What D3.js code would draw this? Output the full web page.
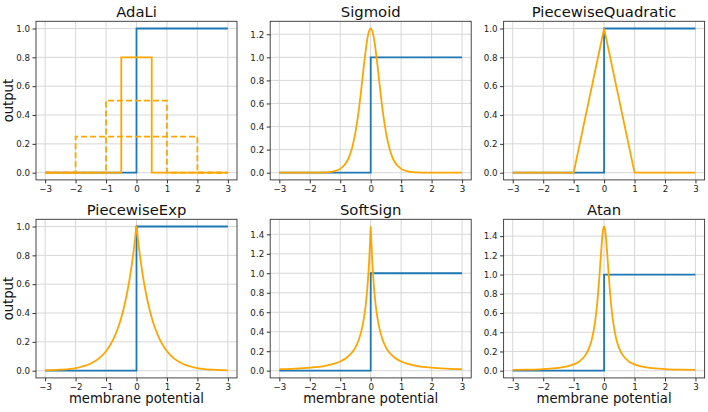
<!DOCTYPE html>
<html>
<head>
<meta charset="utf-8">
<script src="https://cdn.jsdelivr.net/npm/d3@7"></script>
<style>
  body { margin: 0; background: #fff; }
  svg text { font-family: "DejaVu Sans", sans-serif; }
</style>
</head>
<body>
<div id="chart"></div>
<script>
// surrogate gradient functions vs heaviside step

var titles = ["AdaLi", "Sigmoid", "PiecewiseQuadratic", "PiecewiseExp", "SoftSign", "Atan"];
var xTicks = [-3, -2, -1, 0, 1, 2, 3];
var yTicksUnit = [0, 0.2, 0.4, 0.6, 0.8, 1.0];
var yTicksSigmoid = [0, 0.2, 0.4, 0.6, 0.8, 1.0, 1.2];
var yTicksPeak = [0, 0.2, 0.4, 0.6, 0.8, 1.0, 1.2, 1.4];

// heaviside (blue)
var stepX = [-3, 0, 0, 3];
var stepY = [0, 0, 1, 1];

// AdaLi rectangles
var adaliNarrowX = [-3, -0.5, -0.5, 0.5, 0.5, 3];
var adaliNarrowY = [0, 0, 0.8, 0.8, 0, 0];
var adaliMidX = [-3, -1, -1, 1, 1, 3];
var adaliMidY = [0, 0, 0.5, 0.5, 0, 0];
var adaliWideX = [-3, -2, -2, 2, 2, 3];
var adaliWideY = [0, 0, 0.25, 0.25, 0, 0];

// PiecewiseQuadratic triangle
var quadX = [-3, -1, 0, 1, 3];
var quadY = [0, 0, 1, 0, 0];

// smooth curves
var smoothX = [-3, -2.5, -2, -1.5, -1.25, -1, -0.8, -0.7, -0.6, -0.5, -0.4, -0.3, -0.2, -0.1, -0.05, 0,
               0.05, 0.1, 0.2, 0.3, 0.4, 0.5, 0.6, 0.7, 0.8, 1, 1.25, 1.5, 2, 2.5, 3];
var sigmoidY = [0, 0, 0.0002, 0.0028, 0.0096, 0.033, 0.088, 0.142, 0.226, 0.351, 0.525, 0.746, 0.983, 1.175, 1.23, 1.25,
                1.23, 1.175, 0.983, 0.746, 0.525, 0.351, 0.226, 0.142, 0.088, 0.033, 0.0096, 0.0028, 0.0002, 0, 0];
var expY = [0.0025, 0.0067, 0.018, 0.05, 0.082, 0.135, 0.202, 0.247, 0.301, 0.368, 0.449, 0.549, 0.67, 0.819, 0.905, 1.0,
            0.905, 0.819, 0.67, 0.549, 0.449, 0.368, 0.301, 0.247, 0.202, 0.135, 0.082, 0.05, 0.018, 0.0067, 0.0025];

var peakX = [-3, -2.5, -2, -1.5, -1.25, -1, -0.8, -0.6, -0.5, -0.4, -0.3, -0.25, -0.2, -0.15, -0.1, -0.05, -0.02, 0,
             0.02, 0.05, 0.1, 0.15, 0.2, 0.25, 0.3, 0.4, 0.5, 0.6, 0.8, 1, 1.25, 1.5, 2, 2.5, 3];
var softsignY = [0.015, 0.021, 0.031, 0.05, 0.067, 0.094, 0.13, 0.191, 0.24, 0.31, 0.416, 0.49, 0.586, 0.713, 0.888, 1.134, 1.335, 1.48,
                 1.335, 1.134, 0.888, 0.713, 0.586, 0.49, 0.416, 0.31, 0.24, 0.191, 0.13, 0.094, 0.067, 0.05, 0.031, 0.021, 0.015];
var atanY = [0.0075, 0.011, 0.017, 0.029, 0.042, 0.065, 0.099, 0.167, 0.229, 0.329, 0.5, 0.628, 0.794, 1.0, 1.227, 1.421, 1.487, 1.5,
             1.487, 1.421, 1.227, 1.0, 0.794, 0.628, 0.5, 0.329, 0.229, 0.167, 0.099, 0.065, 0.042, 0.029, 0.017, 0.011, 0.0075];

function zipXY(xs, ys) {
  return xs.map(function(x, i) { return {x: x, y: ys[i]}; });
}

var BLUE = "#1f77b4", ORANGE = "#ffa500";

var panels = [
  {yTicks: yTicksUnit, series: [
    {pts: zipXY(stepX, stepY), color: BLUE},
    {pts: zipXY(adaliWideX, adaliWideY), color: ORANGE, dash: "6,3"},
    {pts: zipXY(adaliMidX, adaliMidY), color: ORANGE, dash: "6,3"},
    {pts: zipXY(adaliNarrowX, adaliNarrowY), color: ORANGE}]},
  {yTicks: yTicksSigmoid, series: [
    {pts: zipXY(stepX, stepY), color: BLUE},
    {pts: zipXY(smoothX, sigmoidY), color: ORANGE, smooth: true}]},
  {yTicks: yTicksUnit, series: [
    {pts: zipXY(stepX, stepY), color: BLUE},
    {pts: zipXY(quadX, quadY), color: ORANGE}]},
  {yTicks: yTicksUnit, series: [
    {pts: zipXY(stepX, stepY), color: BLUE},
    {pts: zipXY(smoothX, expY), color: ORANGE, smooth: true}]},
  {yTicks: yTicksPeak, series: [
    {pts: zipXY(stepX, stepY), color: BLUE},
    {pts: zipXY(peakX, softsignY), color: ORANGE, smooth: true}]},
  {yTicks: yTicksPeak, series: [
    {pts: zipXY(stepX, stepY), color: BLUE},
    {pts: zipXY(peakX, atanY), color: ORANGE, smooth: true}]}
];

var W = 708, H = 412;
var colLeft = [36, 270.2, 503.6];
var rowTop = [21.3, 219.3];
var pw = 201, ph = 158.6;

var svg = d3.select("#chart").append("svg")
  .attr("width", W).attr("height", H);
svg.append("rect").attr("width", W).attr("height", H).attr("fill", "#fff");

panels.forEach(function(p, i) {
  var col = i % 3, row = Math.floor(i / 3);
  var g = svg.append("g")
    .attr("transform", "translate(" + colLeft[col] + "," + rowTop[row] + ")");

  var allY = d3.merge(p.series.map(function(s) { return s.pts.map(function(d) { return d.y; }); }));
  var ext = d3.extent(allY);
  var pad = (ext[1] - ext[0]) * 0.05;

  var x = d3.scaleLinear().domain([-3.3, 3.3]).range([0, pw]);
  var y = d3.scaleLinear().domain([ext[0] - pad, ext[1] + pad]).range([ph, 0]);

  // grid
  g.append("g").selectAll("line").data(xTicks).join("line")
    .attr("x1", function(d) { return x(d); }).attr("x2", function(d) { return x(d); })
    .attr("y1", 0).attr("y2", ph)
    .attr("stroke", "#d2d2d2").attr("stroke-width", 0.9);
  g.append("g").selectAll("line").data(p.yTicks).join("line")
    .attr("y1", function(d) { return y(d); }).attr("y2", function(d) { return y(d); })
    .attr("x1", 0).attr("x2", pw)
    .attr("stroke", "#d2d2d2").attr("stroke-width", 0.9);

  var xAxis = g.append("g")
    .attr("transform", "translate(0," + ph + ")")
    .call(d3.axisBottom(x).tickValues(xTicks).tickFormat(d3.format("d"))
      .tickSizeInner(3.5).tickSizeOuter(0).tickPadding(2.5));
  var yAxis = g.append("g")
    .call(d3.axisLeft(y).tickValues(p.yTicks).tickFormat(d3.format(".1f"))
      .tickSizeInner(3.5).tickSizeOuter(0).tickPadding(2.5));
  [xAxis, yAxis].forEach(function(a) {
    a.select(".domain").remove();
    a.selectAll(".tick line").attr("stroke", "#333");
    a.selectAll(".tick text").attr("fill", "#222").style("font-size", "8.7px")
      .style("font-family", "DejaVu Sans, sans-serif");
  });

  p.series.forEach(function(s) {
    var line = d3.line()
      .x(function(d) { return x(d.x); })
      .y(function(d) { return y(d.y); })
      .curve(s.smooth ? d3.curveMonotoneX : d3.curveLinear);
    g.append("path")
      .datum(s.pts)
      .attr("fill", "none")
      .attr("stroke", s.color)
      .attr("stroke-width", 1.8)
      .attr("stroke-linejoin", "miter")
      .attr("stroke-dasharray", s.dash || null)
      .attr("d", line);
  });

  g.append("rect")
    .attr("width", pw).attr("height", ph)
    .attr("fill", "none").attr("stroke", "#333").attr("stroke-width", 0.9);

  g.append("text")
    .attr("x", pw / 2).attr("y", -4.3)
    .attr("text-anchor", "middle")
    .attr("fill", "#111")
    .style("font-size", "14.8px")
    .text(titles[i]);

  if (col === 0) {
    g.append("text")
      .attr("transform", "translate(" + (13 - colLeft[0]) + "," + (ph / 2) + ") rotate(-90)")
      .attr("text-anchor", "middle")
      .attr("fill", "#111")
      .style("font-size", "13.2px")
      .text("output");
  }
  if (row === 1) {
    g.append("text")
      .attr("x", pw / 2).attr("y", 403 - rowTop[1])
      .attr("text-anchor", "middle")
      .attr("fill", "#111")
      .style("font-size", "13.2px")
      .text("membrane potential");
  }
});
</script>
</body>
</html>
